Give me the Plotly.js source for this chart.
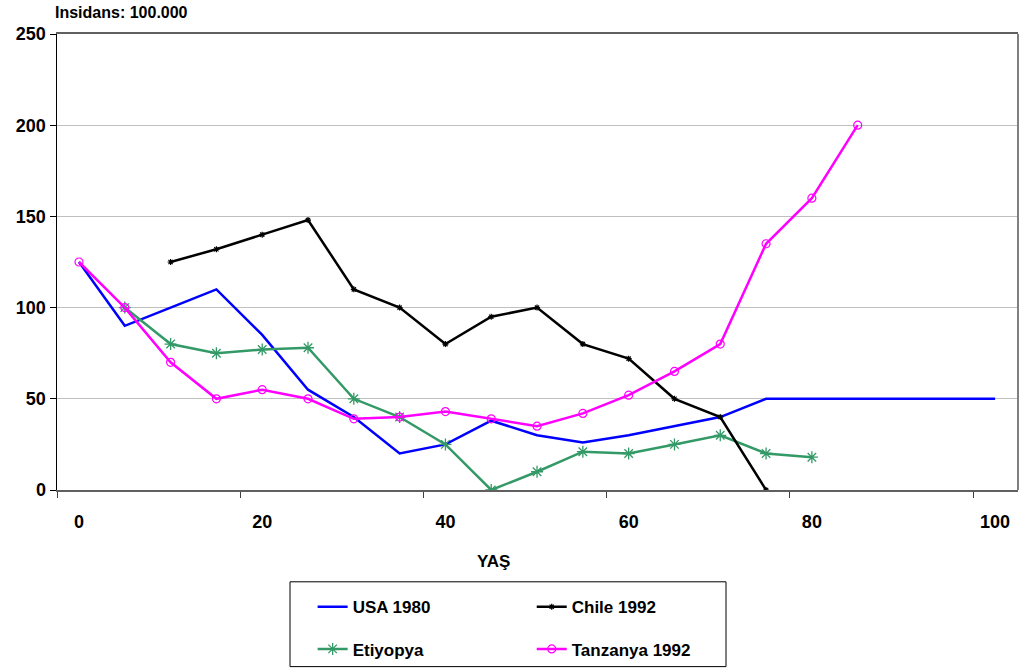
<!DOCTYPE html>
<html>
<head>
<meta charset="utf-8">
<script src="https://cdn.plot.ly/plotly-3.0.1.min.js"></script>
<style>
  html, body { margin: 0; padding: 0; background: #fff; }
  #chart { width: 1021px; height: 669px; }
</style>
</head>
<body>
<div id="chart"></div>
<script>
// Age groups (years)
const ageUSA      = [0, 5, 10, 15, 20, 25, 30, 35, 40, 45, 50, 55, 60, 65, 70, 75, 80, 85, 90, 95, 100];
const ageChile    = [10, 15, 20, 25, 30, 35, 40, 45, 50, 55, 60, 65, 70, 75];
const ageEtiyopya = [5, 10, 15, 20, 25, 30, 35, 40, 45, 50, 55, 60, 65, 70, 75, 80];
const ageTanzanya = [0, 5, 10, 15, 20, 25, 30, 35, 40, 45, 50, 55, 60, 65, 70, 75, 80, 85];

// Incidence per 100.000
const usa1980     = [125, 90, 100, 110, 85, 55, 40, 20, 25, 38, 30, 26, 30, 35, 40, 50, 50, 50, 50, 50, 50];
const chile1992   = [125, 132, 140, 148, 110, 100, 80, 95, 100, 80, 72, 50, 40, 0];
const etiyopya    = [100, 80, 75, 77, 78, 50, 40, 25, 0, 10, 21, 20, 25, 30, 20, 18];
const tanzanya    = [125, 100, 70, 50, 55, 50, 39, 40, 43, 39, 35, 42, 52, 65, 80, 135, 160, 200];

const xTickVals  = [0, 20, 40, 60, 80, 100];
const xTickText  = ['0', '20', '40', '60', '80', '100'];
const yTickVals  = [0, 50, 100, 150, 200, 250];

const FONT = 'Liberation Sans, Arial, sans-serif';
const XRANGE = [-2.4, 102.5];

const traces = [
  {
    x: ageUSA, y: usa1980, name: 'USA 1980', mode: 'lines',
    line: { color: '#0000FF', width: 2.5 },
    legend: 'legend', legendgroup: 'a'
  },
  {
    x: ageEtiyopya, y: etiyopya, name: 'Etiyopya', mode: 'lines+markers',
    line: { color: '#339966', width: 2.5 },
    marker: { symbol: 'asterisk-open', size: 10, color: '#339966', line: { color: '#339966', width: 1.3 } },
    legend: 'legend', legendgroup: 'b'
  },
  {
    x: ageChile, y: chile1992, name: 'Chile 1992', mode: 'lines+markers',
    line: { color: '#000000', width: 2.5 },
    marker: { symbol: 'asterisk-open', size: 5, color: '#000000', line: { color: '#000000', width: 1.2 } },
    legend: 'legend2', legendgroup: 'c'
  },
  {
    x: ageTanzanya, y: tanzanya, name: 'Tanzanya 1992', mode: 'lines+markers',
    line: { color: '#FF00FF', width: 2.5 },
    marker: { symbol: 'circle-open', size: 8, color: '#FF00FF', line: { color: '#FF00FF', width: 1.2 } },
    legend: 'legend2', legendgroup: 'd'
  }
];

// Invisible trace carrying the age labels axis
traces.push({
  x: [0, 100], y: [0, 0], xaxis: 'x2', mode: 'lines',
  line: { width: 0 }, showlegend: false, hoverinfo: 'skip'
});

const legendCommon = {
  xanchor: 'left', yanchor: 'top',
  bgcolor: 'rgba(0,0,0,0)', borderwidth: 0,
  font: { family: FONT, size: 17, color: '#000', weight: 'bold' },
  traceorder: 'grouped', tracegroupgap: 17
};

const layout = {
  width: 1021, height: 669,
  margin: { l: 57, r: 3, t: 34, b: 178 },
  paper_bgcolor: '#fff', plot_bgcolor: '#fff',
  font: { family: FONT, color: '#000' },
  title: {
    text: '<b>Insidans: 100.000</b>',
    font: { family: FONT, size: 16, color: '#000' },
    xref: 'container', yref: 'container',
    x: 55 / 1021, xanchor: 'left',
    y: 1 - 12 / 669, yanchor: 'middle'
  },
  xaxis: {
    range: XRANGE, showgrid: false, zeroline: false,
    tick0: 17.6, dtick: 20.0, ticks: 'outside', ticklen: 6, tickcolor: '#404040',
    showticklabels: false,
    showline: true, linecolor: '#606060', linewidth: 2, mirror: true
  },
  xaxis2: {
    overlaying: 'x', anchor: 'y', side: 'bottom',
    range: XRANGE, showgrid: false, zeroline: false, showline: false,
    tickmode: 'array', tickvals: xTickVals, ticktext: xTickText,
    ticks: '', ticklabelstandoff: 19,
    tickfont: { family: FONT, size: 18, color: '#000', weight: 'bold' }
  },
  yaxis: {
    range: [0, 250], tickmode: 'array', tickvals: yTickVals,
    showgrid: true, gridcolor: '#c0c0c0', gridwidth: 1, zeroline: false,
    ticks: 'outside', ticklen: 6, tickcolor: '#000',
    showline: true, linecolor: '#000', linewidth: 1.5,
    tickfont: { family: FONT, size: 18, color: '#000', weight: 'bold' }
  },
  legend: Object.assign({ x: 0.266, y: -0.215 }, legendCommon),
  legend2: Object.assign({ x: 0.494, y: -0.215 }, legendCommon),
  showlegend: true,
  annotations: [
    {
      text: '<b>YAŞ</b>', xref: 'paper', yref: 'paper',
      x: (493 - 57) / 961, y: (491 - 563) / 457,
      xanchor: 'center', yanchor: 'middle', showarrow: false,
      font: { family: FONT, size: 17, color: '#000' }
    }
  ],
  shapes: [
    // right border of plot area
    { type: 'line', xref: 'paper', yref: 'paper', x0: 1, x1: 1, y0: 0, y1: 1,
      line: { color: '#808080', width: 2 } },
    // legend frame
    { type: 'rect', xref: 'paper', yref: 'paper',
      x0: (290 - 57) / 961, x1: (726 - 57) / 961,
      y0: (491 - 668) / 457, y1: (491 - 583) / 457,
      line: { color: '#000', width: 1 }, fillcolor: 'rgba(0,0,0,0)' }
  ]
};

Plotly.newPlot('chart', traces, layout, { displayModeBar: false, staticPlot: true });
</script>
</body>
</html>
